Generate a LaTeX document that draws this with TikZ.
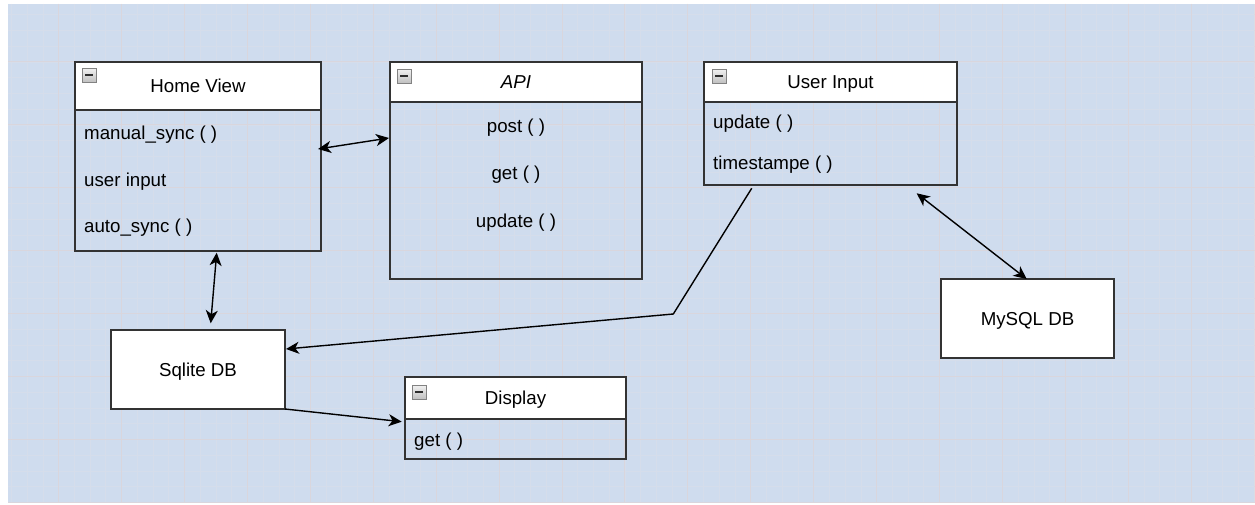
\documentclass[tikz,border=0pt]{standalone}
\usepackage{fontspec}
\setmainfont{Liberation Sans}
\usetikzlibrary{arrows.meta}

\definecolor{canvas}{RGB}{207,220,238}
\definecolor{gridminor}{RGB}{213,221,235}
\definecolor{gridmajor}{RGB}{217,214,221}
\definecolor{boxline}{RGB}{51,51,51}
\definecolor{iconedge}{RGB}{130,130,130}
\definecolor{iconbar}{RGB}{45,45,45}

\newcommand\diafont{\fontsize{18.7}{22}\selectfont}

\tikzset{
  hdr/.style={draw=boxline, line width=1.4pt, fill=white, anchor=north west,
    inner sep=0pt, outer sep=0pt, text height=13.5pt, text depth=0pt, font=\diafont},
  bodybox/.style={draw=boxline, line width=1.4pt, anchor=north west,
    inner sep=0pt, outer sep=0pt},
  dbbox/.style={hdr},
  item/.style={anchor=base west, inner sep=0pt, font=\diafont},
  citem/.style={anchor=base, inner sep=0pt, font=\diafont},
  minusicon/.style={draw=iconedge, line width=0.7pt, top color=gray!12,
    bottom color=gray!50, minimum size=14pt, inner sep=0pt, anchor=north west,
    path picture={\fill[iconbar]
      ([xshift=3pt,yshift=-1pt]path picture bounding box.west) rectangle
      ([xshift=-3pt,yshift=1pt]path picture bounding box.east);}},
  tipshape/.tip={Stealth[length=13pt,width=12pt,inset=3.8pt]},
  link/.style={line width=1.4pt, black},
}

\begin{document}
\begin{tikzpicture}[x=1pt,y=-1pt]
  \useasboundingbox (0,0) rectangle (1255,505);
  \fill[white] (0,0) rectangle (1255,505);

  % canvas with grid
  \fill[canvas] (8,4) rectangle (1254,502);
  \begin{scope}
    \clip (8,4) rectangle (1254.6,502.6);
    \foreach \k in {1,...,80}{
      \pgfmathsetmacro\gx{-4.23+15.73*\k}
      \draw[gridminor, line width=0.8pt] (\gx,4) -- (\gx,503);
    }
    \foreach \k in {1,...,32}{
      \pgfmathsetmacro\gy{-0.93+15.73*\k}
      \draw[gridminor, line width=0.8pt] (8,\gy) -- (1255,\gy);
    }
    \foreach \k in {1,...,20}{
      \pgfmathsetmacro\gx{-4.23+62.92*\k}
      \draw[gridmajor, line width=1pt] (\gx,4) -- (\gx,503);
    }
    \foreach \k in {1,...,8}{
      \pgfmathsetmacro\gy{-0.93+62.92*\k}
      \draw[gridmajor, line width=1pt] (8,\gy) -- (1255,\gy);
    }
  \end{scope}

  % Home View class
  \node[bodybox, minimum width=246pt, minimum height=141pt] (hvbody) at (75,110) {};
  \node[hdr, minimum width=246pt, minimum height=48pt] (hvhead) at (75,62) {Home View};
  \node[minusicon] (hvicon) at (82,68) {};
  \node[item] (hvsync) at (84,139.3) {manual\_sync ( )};
  \node[item] (hvinput) at (84,186.5) {user input};
  \node[item] (hvauto) at (84,232.7) {auto\_sync ( )};

  % API class
  \node[bodybox, minimum width=252pt, minimum height=177pt] (apibody) at (390,102) {};
  \node[hdr, minimum width=252pt, minimum height=40pt] (apihead) at (390,62) {\itshape API};
  \node[minusicon] (apiicon) at (397,69) {};
  \node[citem] (apipost) at (516,132.7) {post ( )};
  \node[citem] (apiget) at (516,180) {get ( )};
  \node[citem] (apiupdate) at (516,227) {update ( )};

  % User Input class
  \node[bodybox, minimum width=253pt, minimum height=83pt] (uibody) at (704,102) {};
  \node[hdr, minimum width=253pt, minimum height=40pt] (uihead) at (704,62) {User Input};
  \node[minusicon] (uiicon) at (712,69) {};
  \node[item] (uiupdate) at (713,129) {update ( )};
  \node[item] (uistamp) at (713,170) {timestampe ( )};

  % Display class
  \node[bodybox, minimum width=221pt, minimum height=40pt] (dispbody) at (405,419) {};
  \node[hdr, minimum width=221pt, minimum height=42pt] (disphead) at (405,377) {Display};
  \node[minusicon] (dispicon) at (412,385) {};
  \node[item] (dispget) at (414,446.7) {get ( )};

  % databases
  \node[dbbox, minimum width=174pt, minimum height=79pt] (sqlite) at (111,330) {Sqlite DB};
  \node[dbbox, minimum width=173pt, minimum height=79pt] (mysql) at (941,279) {MySQL DB};

  % connectors
  \draw[link, tipshape-tipshape]
    ([xshift=-3pt,yshift=31.5pt]hvbody.east) -- ([xshift=-1pt,yshift=52.5pt]apibody.west);
  \draw[link, tipshape-tipshape]
    ([xshift=18.7pt,yshift=-1.7pt]hvbody.south) -- ([xshift=12.7pt,yshift=6.7pt]sqlite.north);
  \coordinate (uibend) at (673.3,314);
  \draw[link, -tipshape]
    ([xshift=-78.8pt,yshift=-3.3pt]uibody.south) -- (uibend) -- ([xshift=1pt,yshift=20.5pt]sqlite.east);
  \draw[link, -tipshape]
    (sqlite.south east) -- ([xshift=-3.3pt,yshift=-2.7pt]disphead.south west);
  \draw[link, tipshape-tipshape]
    ([xshift=86.2pt,yshift=-8.3pt]uibody.south) -- ([xshift=-0.8pt]mysql.north);
\end{tikzpicture}
\end{document}
